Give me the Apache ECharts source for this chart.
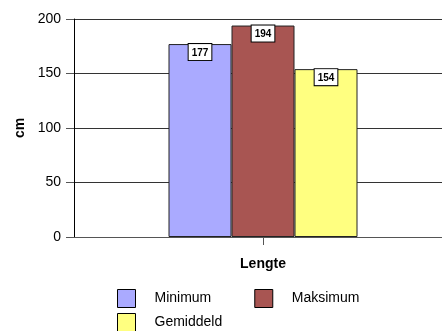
<!DOCTYPE html>
<html><head><meta charset="utf-8">
<script src="https://cdn.jsdelivr.net/npm/echarts@6/dist/echarts.min.js"></script>
<style>html,body{margin:0;padding:0;background:#fff;overflow:hidden}#c{width:452px;height:331px}</style>
</head><body><div id="c"></div>
<script>
const categories = ['Lengte'];
const seriesNames = ['Minimum', 'Maksimum', 'Gemiddeld'];
const minimumValues = [177];
const maksimumValues = [194];
const gemiddeldValues = [154];
const yTicks = [0, 50, 100, 150, 200];

const colors = ['#aaaaff', '#a85552', '#ffff80'];
const font = 'Liberation Sans, Arial, sans-serif';
const labelCfg = {
  show: true, position: 'insideTop', distance: 0,
  color: '#000', fontSize: 10, fontWeight: 'bold', fontFamily: font,
  backgroundColor: '#fff', borderColor: '#000', borderWidth: 1,
  padding: [4, 3, 2, 3]
};
const mk = (name, data, i) => ({
  name, type: 'bar', data, barGap: 0, barCategoryGap: '50%',
  itemStyle: { color: colors[i], borderColor: '#222', borderWidth: 1 },
  label: labelCfg
});
const chart = echarts.init(document.getElementById('c'));
chart.setOption({
  animation: false,
  grid: { left: 74, top: 19, right: 0, bottom: 94 },
  legend: [
    { data: ['Minimum', 'Maksimum'], left: 117, top: 289, padding: 0, itemWidth: 18, itemHeight: 18, itemGap: 43,
      icon: 'rect', itemStyle: { borderColor: '#000', borderWidth: 1 },
      textStyle: { fontSize: 14, fontFamily: font, color: '#000', padding: [0, 0, 0, 14] } },
    { data: ['Gemiddeld'], left: 117, top: 313, padding: 0, itemWidth: 18, itemHeight: 18,
      icon: 'rect', itemStyle: { borderColor: '#000', borderWidth: 1 },
      textStyle: { fontSize: 14, fontFamily: font, color: '#000', padding: [0, 0, 0, 14] } }
  ],
  xAxis: {
    type: 'category', data: categories,
    name: categories[0], nameLocation: 'middle', nameGap: 20,
    nameTextStyle: { fontSize: 14, fontWeight: 'bold', fontFamily: font, color: '#000' },
    axisLine: { lineStyle: { color: '#555', width: 1 } },
    axisTick: { show: true, alignWithLabel: true, length: 8, lineStyle: { color: '#555' } },
    axisLabel: { show: false }
  },
  yAxis: {
    type: 'value', min: yTicks[0], max: yTicks[yTicks.length - 1], interval: 50,
    name: 'cm', nameLocation: 'middle', nameGap: 42, nameRotate: 90,
    nameTextStyle: { fontSize: 14, fontWeight: 'bold', fontFamily: font, color: '#000' },
    axisLine: { show: true, lineStyle: { color: '#000', width: 1 } },
    axisTick: { show: true, length: 8, lineStyle: { color: '#555' } },
    axisLabel: { fontSize: 14, fontFamily: font, color: '#000', margin: 13 },
    splitLine: { show: true, lineStyle: { color: '#333', width: 1 } }
  },
  series: [
    mk(seriesNames[0], minimumValues, 0),
    mk(seriesNames[1], maksimumValues, 1),
    mk(seriesNames[2], gemiddeldValues, 2)
  ]
});
</script></body></html>
